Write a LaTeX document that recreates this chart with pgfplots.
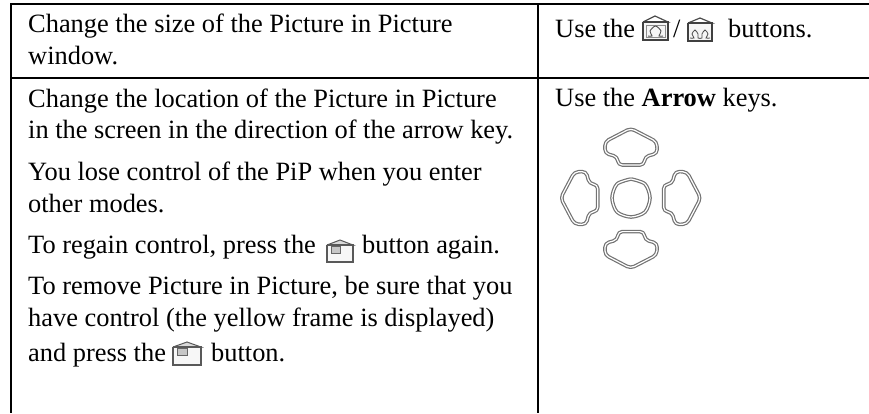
\documentclass[border=0pt]{standalone}
\usepackage{pgfplots}
\pgfplotsset{compat=1.18}
\usepackage{fontspec}
\setmainfont{Liberation Serif}
\newcommand{\txt}[3]{\node[anchor=base west,inner sep=0pt,font=\fontsize{26.4pt}{30pt}\selectfont] at (axis cs:#1,#2) {#3};}
\newcommand{\arrowkey}[2][rounded corners=4pt]{%
\addplot[black!55,line width=3.6pt,#1,line join=round] coordinates {#2};
\addplot[white,line width=1.2pt,#1,line join=round] coordinates {#2};}
\begin{document}
\begin{tikzpicture}
\path[use as bounding box] (0pt,0pt) rectangle (869pt,413pt);
\begin{axis}[scale only axis,width=869pt,height=413pt,at={(0pt,0pt)},anchor=south west,xmin=0,xmax=869,ymin=0,ymax=413,y dir=reverse,hide axis,clip=true]
\addplot[black,line width=2pt] coordinates {(10,4) (869,4)};
\addplot[black,line width=2pt] coordinates {(10,77.5) (869,77.5)};
\addplot[black,line width=2pt] coordinates {(11,3) (11,413)};
\addplot[black,line width=2pt] coordinates {(538,3) (538,413)};
\txt{28}{32}{Change the size of the Picture in Picture}
\txt{28}{64}{window.}
\txt{28}{107}{Change the location of the Picture in Picture}
\txt{28}{138}{in the screen in the direction of the arrow key.}
\txt{28}{180}{You lose control of the PiP when you enter}
\txt{28}{212}{other modes.}
\txt{28}{253}{To regain control, press the}
\txt{362}{253}{button again.}
\txt{28}{294}{To remove Picture in Picture, be sure that you}
\txt{28}{326}{have control (the yellow frame is displayed)}
\txt{28}{361}{and press the}
\txt{211}{361}{button.}
\txt{555}{37}{Use the}
\txt{673}{37}{/}
\txt{728}{37}{buttons.}
\txt{555}{106.5}{Use the \textbf{Arrow} keys.}
% arrow keys
\arrowkey{(631,165) (644,165) (645,156.7) (657.3,153.3) (656.7,141.7) (630.7,128.3) (605,141.7) (605,153.3) (617.3,156.7) (618.3,165) (631,165)}
\arrowkey{(631,231.6) (644,231.6) (645,239.9) (657.3,243.3) (656.7,254.9) (630.7,268.3) (605,254.9) (605,243.3) (617.3,239.9) (618.3,231.6) (631,231.6)}
\arrowkey{(597.7,198) (597.7,211.3) (589.4,212.3) (586,224.6) (574.4,224) (560.7,198) (574.4,172) (586,171.4) (589.4,183.7) (597.7,184.7) (597.7,198)}
\arrowkey{(663.7,198) (663.7,211.3) (672,212.3) (675.4,224.6) (687,224) (700.7,198) (687,172) (675.4,171.4) (672,183.7) (663.7,184.7) (663.7,198)}
\arrowkey[smooth]{(631,179) (645,184) (650,198) (645,212) (631,217) (617,212) (612,198) (617,184) (631,179)}
% size buttons
\addplot[black!70,line width=1.2pt] coordinates {(643,22) (655,16) (668,22) (643,22)};
\addplot[black!75,line width=1.8pt,fill=black!4] coordinates {(643,22) (668,22) (668,40) (643,40) (643,22)};
\addplot[black!45,line width=.7pt] coordinates {(646,25) (665,25) (665,37) (646,37) (646,25)};
\addplot[black!70,line width=.9pt,smooth] coordinates {(648,36) (652,36) (650,31) (655.5,26) (661,31) (659,36) (663,36)};
\addplot[black!70,line width=1.2pt] coordinates {(688,23) (700,18) (712,23) (688,23)};
\addplot[black!75,line width=1.8pt,fill=black!4] coordinates {(688,23) (712,23) (712,41) (688,41) (688,23)};
\addplot[black!70,line width=.8pt,smooth] coordinates {(690,38) (694,38) (692,34) (695,30) (698,34) (698,38) (702,38) (702,34) (705,30) (708,34) (706,38) (710,38)};
% PiP buttons
\addplot[black!65,line width=1pt,fill=black!15] coordinates {(327,245) (340,240) (353,245) (327,245)};
\addplot[black!65,line width=1.8pt,fill=black!3] coordinates {(327,245) (353,245) (353,262) (327,262) (327,245)};
\addplot[black!60,line width=.8pt,fill=black!22] coordinates {(331,246) (340,246) (340,253) (331,253) (331,246)};
\addplot[black!65,line width=1pt,fill=black!15] coordinates {(173,347) (187,342) (201,347) (173,347)};
\addplot[black!65,line width=1.8pt,fill=black!3] coordinates {(173,347) (201,347) (201,365) (173,365) (173,347)};
\addplot[black!60,line width=.8pt,fill=black!22] coordinates {(177,348) (187,348) (187,355) (177,355) (177,348)};
\end{axis}
\end{tikzpicture}
\end{document}
